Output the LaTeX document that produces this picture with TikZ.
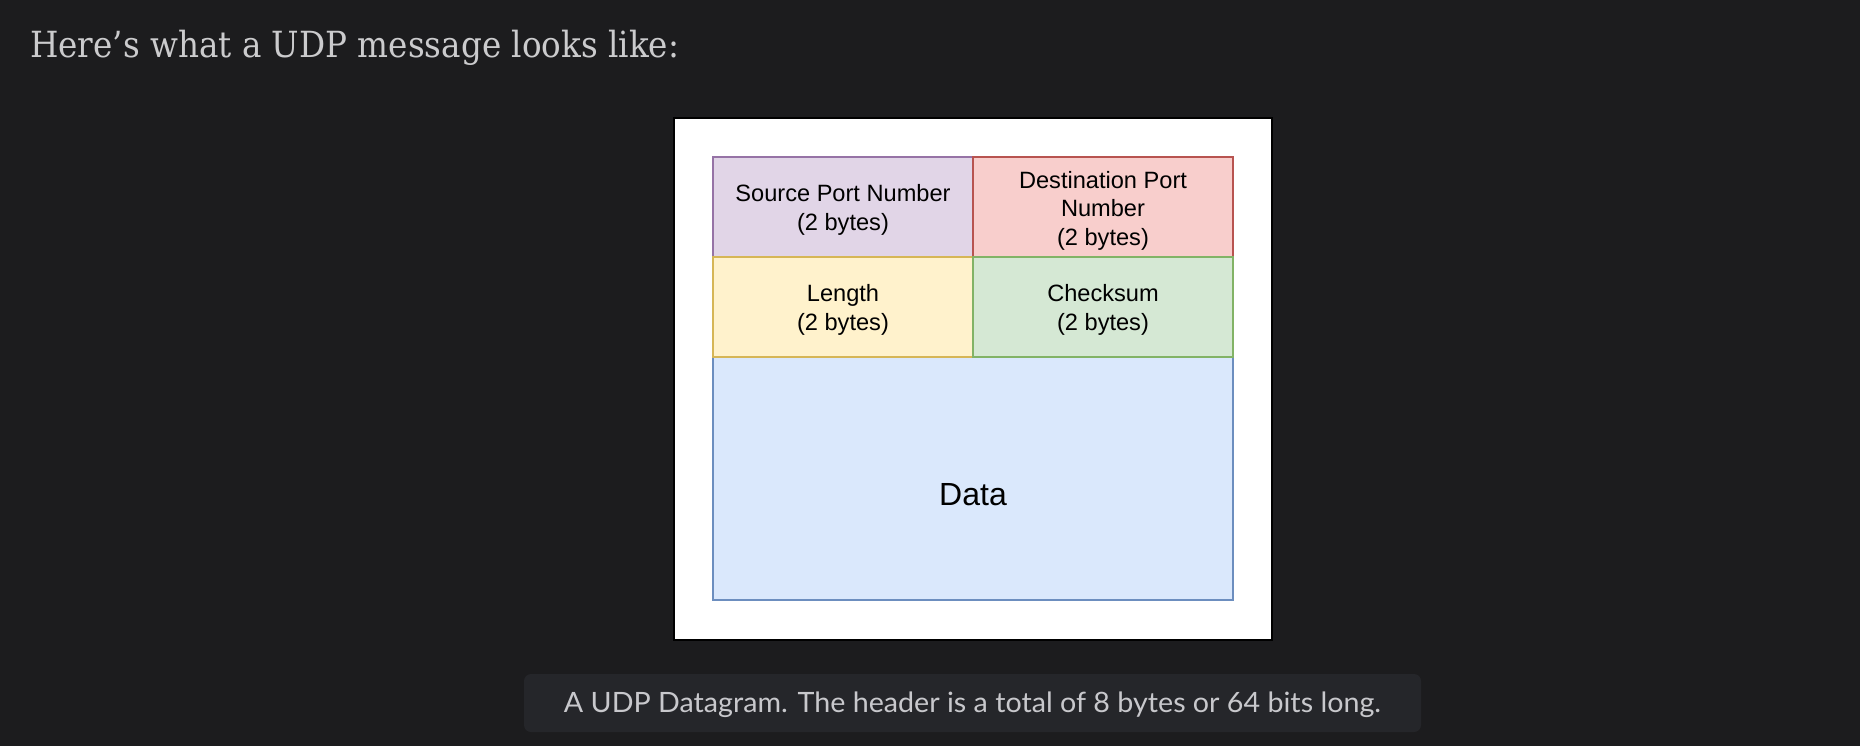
\documentclass[tikz,border=0pt]{standalone}
\usepackage{fontspec}
\usepackage{graphicx}
\newfontfamily\titlefont{DejaVu Serif}
\newfontfamily\capfont{Lato}
\newfontfamily\cellfont{Liberation Sans}
\definecolor{bgc}{HTML}{1C1C1E}
\definecolor{titlec}{HTML}{CBCBCD}
\definecolor{capbg}{HTML}{25262A}
\definecolor{capc}{HTML}{C8C8CC}
\definecolor{pfill}{HTML}{E1D5E7}\definecolor{pline}{HTML}{9673A6}
\definecolor{rfill}{HTML}{F8CECC}\definecolor{rline}{HTML}{B85450}
\definecolor{yfill}{HTML}{FFF2CC}\definecolor{yline}{HTML}{D6B656}
\definecolor{gfill}{HTML}{D5E8D4}\definecolor{gline}{HTML}{82B366}
\definecolor{bfill}{HTML}{DAE8FC}\definecolor{bline}{HTML}{6C8EBF}
\begin{document}
\begin{tikzpicture}[x=1pt,y=-1pt,
  cell/.style={draw, line width=2pt, inner sep=0pt, minimum width=260pt, minimum height=100pt},
  celltext/.style={inner sep=0pt, align=center, text=black, font=\cellfont\fontsize{23.6}{28.5}\selectfont}]
\fill[bgc] (0,0) rectangle (1860,746);
\useasboundingbox (0,0) rectangle (1860,746);
\node[anchor=base west, text=titlec, inner sep=0pt, font=\titlefont\fontsize{36}{42}\selectfont] (title) at (30,58)
  {\resizebox{649pt}{\height}{Here’s what a UDP message looks like:}};
\node[draw=black, line width=2pt, fill=white, minimum width=598pt, minimum height=522pt, inner sep=0pt] (frame) at (973,379) {};
\node[cell, fill=bfill, draw=bline, minimum width=520pt, minimum height=243pt] (data) at (973,478.5) {};
\node[inner sep=0pt, font=\cellfont\fontsize{32}{38}\selectfont] (datatext) at (973,495) {Data};
\node[cell, fill=pfill, draw=pline] (src) at (843,207) {};
\node[cell, fill=rfill, draw=rline] (dst) at (1103,207) {};
\node[cell, fill=yfill, draw=yline] (len) at (843,307) {};
\node[cell, fill=gfill, draw=gline] (chk) at (1103,307) {};
\node[celltext] (srct) at (843,210) {Source Port Number\\(2 bytes)};
\node[celltext] (dstt) at (1103,210.5) {Destination Port\\Number\\(2 bytes)};
\node[celltext] (lent) at (843,310) {Length\\(2 bytes)};
\node[celltext] (chkt) at (1103,310) {Checksum\\(2 bytes)};
\node[fill=capbg, rounded corners=7pt, minimum width=897pt, minimum height=58pt, inner sep=0pt] (capbox) at (972.5,703) {};
\node[anchor=base, text=capc, inner sep=0pt, font=\capfont\fontsize{28}{33}\selectfont] (caption) at (972.5,712)
  {\resizebox{817pt}{\height}{A UDP Datagram. The header is a total of 8 bytes or 64 bits long.}};
\end{tikzpicture}
\end{document}
